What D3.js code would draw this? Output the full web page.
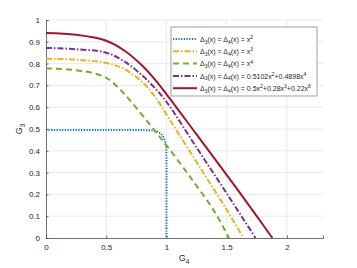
<!DOCTYPE html>
<html lang="en">
<head>
<meta charset="utf-8">
<title>G3 vs G4</title>
<style>
  html, body { margin: 0; padding: 0; background: #fff; }
  svg { display: block; font-family: "Liberation Sans", Arial, sans-serif; }
</style>
<script src="https://d3js.org/d3.v7.min.js"></script>
</head>
<body>
<svg id="chart" width="357" height="268"></svg>
<script>
// ticks
const xTicks = [0, 0.5, 1, 1.5, 2];
const yTicks = [0, 0.1, 0.2, 0.3, 0.4, 0.5, 0.6, 0.7, 0.8, 0.9, 1];

// curves, [G4, G3]
const blueX2 = [[0, 0.495], [0.5, 0.495], [0.85, 0.494], [0.91, 0.49], [0.95, 0.48], [0.975, 0.462], [0.99, 0.44], [0.998, 0.41], [1.0, 0.37], [1.0, 0]];
const orangeX3 = [[0, 0.822], [0.25, 0.818], [0.5, 0.803], [0.65, 0.775], [0.8, 0.715], [0.9, 0.652], [1.03, 0.54], [1.3, 0.305], [1.5, 0.13], [1.64, 0]];
const greenX4 = [[0, 0.778], [0.25, 0.77], [0.4, 0.755], [0.5, 0.735], [0.6, 0.69], [0.7, 0.63], [0.87, 0.515], [1.0, 0.425], [1.21, 0.27], [1.4, 0.12], [1.52, 0]];
const purpleMix = [[0, 0.872], [0.25, 0.866], [0.5, 0.85], [0.65, 0.81], [0.8, 0.745], [0.9, 0.69], [1.0, 0.625], [1.25, 0.415], [1.5, 0.205], [1.74, 0]];
const redMix = [[0, 0.94], [0.25, 0.932], [0.5, 0.905], [0.65, 0.86], [0.8, 0.79], [0.9, 0.73], [1.0, 0.66], [1.25, 0.475], [1.5, 0.29], [1.75, 0.1], [1.88, 0]];

const series = [
  { data: blueX2, color: "#0072BD", dash: "1.2 1.5", rhs: ["x", "2"] },
  { data: orangeX3, color: "#EDB120", dash: "6 2 1.5 2", rhs: ["x", "3"] },
  { data: greenX4, color: "#77AC30", dash: "6 4", rhs: ["x", "4"] },
  { data: purpleMix, color: "#7E2F8E", dash: "6 2 1.5 2", rhs: ["0.5102x", "2", "+0.4898x", "4"] },
  { data: redMix, color: "#A2142F", dash: null, rhs: ["0.5x", "2", "+0.28x", "3", "+0.22x", "8"] }
];

const svg = d3.select("#chart");
const pl = 46, pr = 323, pt = 20, pb = 238;

const x = d3.scaleLinear().domain([0, 2.3]).range([pl, pr]);
const y = d3.scaleLinear().domain([0, 1]).range([pb, pt]);

// grid
svg.append("g")
  .selectAll("line")
  .data(xTicks.filter(d => d > 0))
  .enter().append("line")
  .attr("x1", d => x(d)).attr("x2", d => x(d))
  .attr("y1", pt).attr("y2", pb)
  .attr("stroke", "#e5e5e5").attr("stroke-width", 0.8);
svg.append("g")
  .selectAll("line")
  .data(yTicks.filter(d => d > 0))
  .enter().append("line")
  .attr("x1", pl).attr("x2", pr)
  .attr("y1", d => y(d)).attr("y2", d => y(d))
  .attr("stroke", "#e5e5e5").attr("stroke-width", 0.8);

// axes (MATLAB style, ticks inward)
const xAxis = svg.append("g")
  .attr("transform", `translate(0,${pb})`)
  .call(d3.axisBottom(x).tickValues(xTicks).tickSize(-2.5).tickPadding(6).tickFormat(d3.format("")));
const yAxis = svg.append("g")
  .attr("transform", `translate(${pl},0)`)
  .call(d3.axisLeft(y).tickValues(yTicks).tickSize(-2.5).tickPadding(6).tickFormat(d3.format("")));
[xAxis, yAxis].forEach(a => {
  a.select(".domain").attr("stroke", "#4d4d4d").attr("stroke-width", 0.8);
  a.selectAll(".tick line").attr("stroke", "#4d4d4d").attr("stroke-width", 0.8);
  a.selectAll(".tick text").attr("fill", "#262626").style("font-size", "8px")
    .style("font-family", "'Liberation Sans', Arial, sans-serif");
});

// axis labels
const xl = svg.append("text").attr("x", 184).attr("y", 261).attr("text-anchor", "middle")
  .attr("fill", "#262626").style("font-size", "9px");
xl.append("tspan").text("G");
xl.append("tspan").attr("dy", 2.5).style("font-size", "6.5px").text("4");

const yl = svg.append("text").attr("transform", "translate(22,129) rotate(-90)").attr("text-anchor", "middle")
  .attr("fill", "#262626").style("font-size", "9px");
yl.append("tspan").text("G");
yl.append("tspan").attr("dy", 2.5).style("font-size", "6.5px").text("3");

// curves
const line = d3.line()
  .x(d => x(d[0])).y(d => y(d[1]))
  .curve(d3.curveCatmullRom.alpha(0.5));

svg.append("g")
  .selectAll("path")
  .data(series)
  .enter().append("path")
  .attr("d", d => line(d.data))
  .attr("fill", "none")
  .attr("stroke", d => d.color)
  .attr("stroke-width", 2)
  .attr("stroke-dasharray", d => d.dash);

// legend
const lg = svg.append("g");
lg.append("rect").attr("x", 171).attr("y", 27).attr("width", 146).attr("height", 69)
  .attr("fill", "#fff").attr("stroke", "#777").attr("stroke-width", 0.7);

series.forEach((s, i) => {
  const ly = 39 + i * 12.3;
  lg.append("line").attr("x1", 173).attr("x2", 197).attr("y1", ly).attr("y2", ly)
    .attr("stroke", s.color).attr("stroke-width", 2).attr("stroke-dasharray", s.dash);
  const t = lg.append("text").attr("x", 200).attr("y", ly + 2.6)
    .attr("fill", "#262626").style("font-size", "7px");
  t.append("tspan").text("Δ");
  t.append("tspan").attr("dy", 1.9).style("font-size", "5px").text("3");
  t.append("tspan").attr("dy", -1.9).text("(x) = Δ");
  t.append("tspan").attr("dy", 1.9).style("font-size", "5px").text("4");
  t.append("tspan").attr("dy", -1.9).text("(x) = ");
  s.rhs.forEach((part, k) => {
    if (k % 2 === 0) t.append("tspan").attr("dy", k === 0 ? 0 : 2.6).text(part);
    else t.append("tspan").attr("dy", -2.6).style("font-size", "5px").text(part);
  });
});
</script>
</body>
</html>
